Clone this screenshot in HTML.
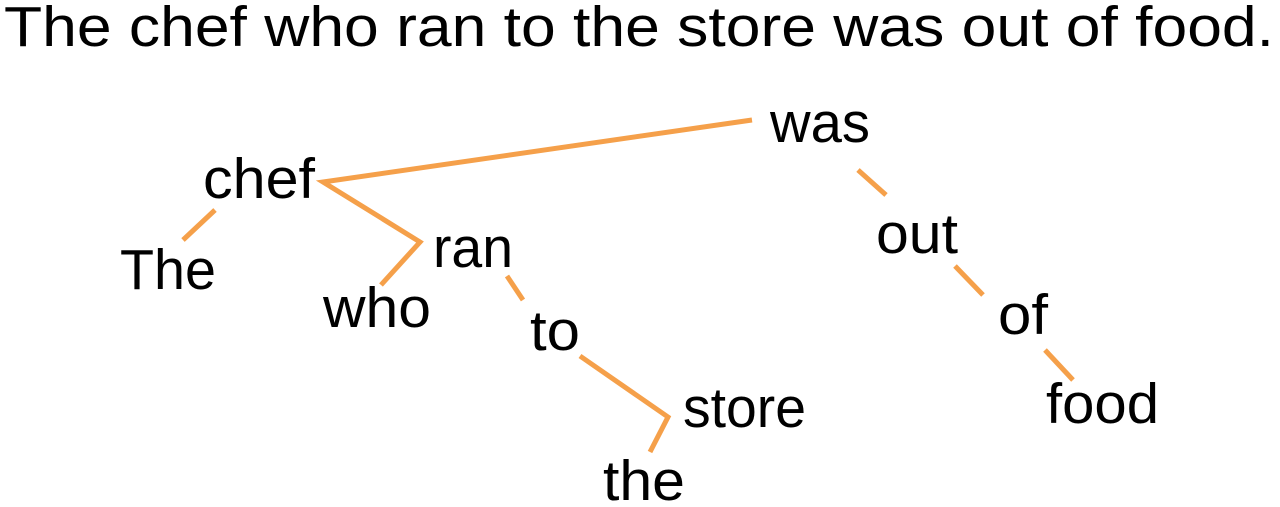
<!DOCTYPE html>
<html><head><meta charset="utf-8"><style>
html,body{margin:0;padding:0;background:#fff;}
svg{display:block;}
text{font-family:"Liberation Sans",sans-serif;fill:#000;}
</style></head><body>
<svg width="1280" height="507" viewBox="0 0 1280 507">
<text x="4" y="46" font-size="57" textLength="1270" lengthAdjust="spacingAndGlyphs">The chef who ran to the store was out of food.</text>
<g stroke="#f5a04a" stroke-width="5" stroke-linecap="butt" fill="none">
<polyline points="752,120 323,182 420,242 381,285"/>
<line x1="215" y1="210" x2="183" y2="240"/>
<line x1="507" y1="276" x2="523" y2="300"/>
<polyline points="580,356 668,417 650,452"/>
<line x1="858" y1="170" x2="886" y2="195"/>
<line x1="955" y1="266" x2="983" y2="295"/>
<line x1="1045" y1="350" x2="1073" y2="380"/>
</g>
<g font-size="57">
<text x="770" y="142" textLength="100" lengthAdjust="spacingAndGlyphs">was</text>
<text x="203" y="198" textLength="112" lengthAdjust="spacingAndGlyphs">chef</text>
<text x="120" y="289" textLength="96" lengthAdjust="spacingAndGlyphs">The</text>
<text x="433" y="267" textLength="80" lengthAdjust="spacingAndGlyphs">ran</text>
<text x="323" y="327" textLength="108" lengthAdjust="spacingAndGlyphs">who</text>
<text x="530" y="350" textLength="50" lengthAdjust="spacingAndGlyphs">to</text>
<text x="683" y="427" textLength="123" lengthAdjust="spacingAndGlyphs">store</text>
<text x="603" y="500" textLength="82" lengthAdjust="spacingAndGlyphs">the</text>
<text x="876" y="253" textLength="82" lengthAdjust="spacingAndGlyphs">out</text>
<text x="998" y="334" textLength="50" lengthAdjust="spacingAndGlyphs">of</text>
<text x="1046" y="423" textLength="113" lengthAdjust="spacingAndGlyphs">food</text>
</g>
</svg>
</body></html>
